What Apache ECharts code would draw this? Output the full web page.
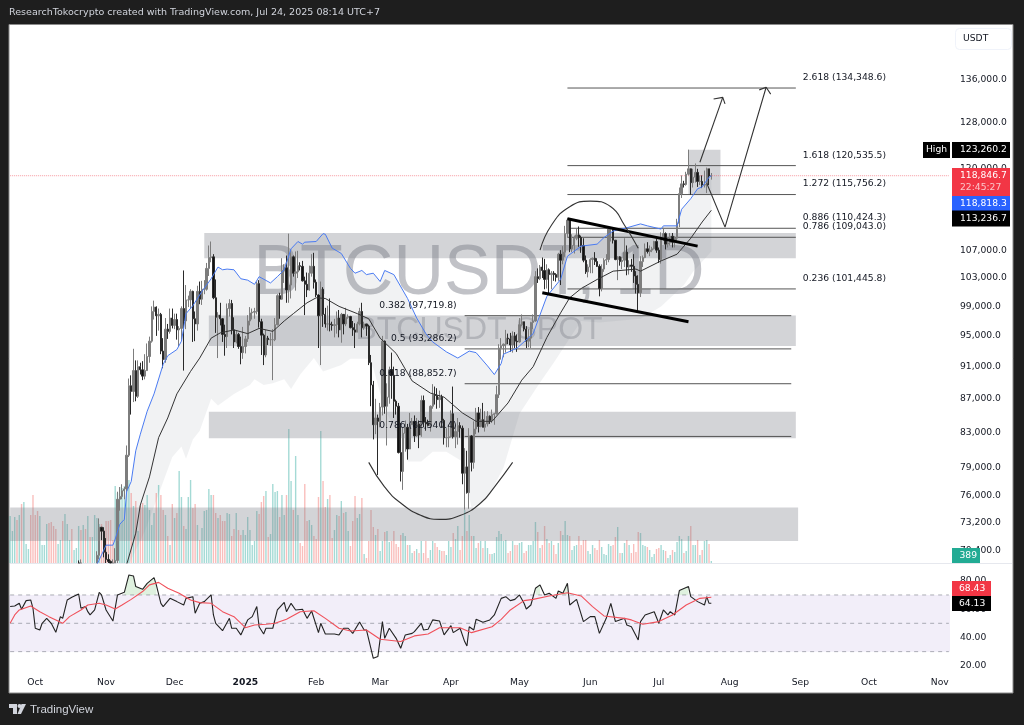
<!DOCTYPE html>
<html><head><meta charset="utf-8">
<style>html,body{margin:0;padding:0;background:#1e1e1e;overflow:hidden}#c{width:1024px;height:725px}</style>
<script src="https://cdn.jsdelivr.net/npm/echarts@6/dist/echarts.min.js"></script>
</head><body><div id="c"></div>
<script>
// ---- daily data, thousands of USDT, 20 Sep 2024 .. 24 Jul 2025 ----
const closes=[63.2,63.3,63.5,63.3,64.3,63.1,65.2,65.8,65.9,65.6,63.3,
60.8,60.6,60.8,62.1,62.1,62.8,62.2,62.1,60.6,60.3,62.5,63.2,62.9,66.0,67.0,67.6,67.4,68.4,68.4,69.0,67.4,67.4,66.7,68.2,66.6,67.0,67.9,69.9,72.7,72.3,70.2,
69.5,69.3,68.7,67.8,69.4,75.6,75.9,76.5,76.7,80.4,88.6,87.9,90.5,87.3,91.0,90.6,89.8,90.5,92.3,94.3,98.3,98.9,97.7,97.9,93.0,91.9,95.9,95.6,97.4,96.4,
97.2,95.8,96.0,98.7,97.0,99.9,99.9,101.1,97.3,96.6,101.1,100.0,101.4,101.4,104.4,106.0,106.1,100.2,97.5,97.8,97.3,95.2,94.9,98.7,99.4,95.8,94.2,95.2,93.6,92.8,93.6,
94.6,97.0,98.1,98.2,98.3,102.2,96.9,95.1,92.5,94.7,94.5,94.5,94.5,96.5,100.5,100.0,104.1,104.5,101.3,102.0,106.1,103.7,103.9,104.8,104.7,102.6,102.1,101.3,103.7,104.7,102.4,
100.6,97.7,101.4,97.9,96.6,96.6,96.5,96.4,96.5,97.4,95.8,97.9,96.6,97.5,97.6,96.1,95.8,95.5,96.6,98.3,96.1,96.6,96.3,91.5,88.7,83.9,84.7,84.3,
86.0,94.3,86.1,87.2,90.6,89.9,86.7,86.1,80.7,78.6,82.9,83.6,81.1,83.9,84.3,82.6,84.0,82.7,86.8,84.2,84.0,83.8,86.1,87.5,87.4,86.9,87.2,84.4,82.4,82.4,82.5,
85.2,82.5,83.1,83.8,83.5,78.4,79.1,76.3,82.6,79.6,83.4,85.3,83.7,84.5,83.6,84.0,84.9,84.4,85.1,85.2,87.5,93.4,93.7,93.9,94.7,94.6,93.8,95.0,94.3,94.2,
96.5,96.9,95.9,94.3,94.7,96.8,97.0,103.2,102.9,104.6,104.1,102.8,104.2,103.5,103.7,103.5,103.1,106.5,105.6,106.8,109.6,111.7,107.3,107.8,108.9,109.4,109.0,107.8,105.6,103.9,104.6,
105.7,105.9,105.4,104.7,101.5,104.3,105.6,105.7,110.3,110.3,108.6,105.7,106.1,105.4,105.6,106.8,104.6,104.9,104.7,103.3,102.1,100.9,105.4,106.0,107.3,106.9,107.1,107.3,108.4,107.1,
105.7,108.8,109.6,108.0,108.2,109.2,108.3,108.9,111.2,115.9,117.5,117.4,119.1,120.0,117.7,118.6,119.4,117.9,117.9,117.3,117.4,120.0,118.8,118.85];
const highs=[64.1,63.6,63.9,64.7,64.8,64.8,66.5,66.5,66.3,66.1,65.6,
64.1,62.4,61.5,62.5,62.4,62.9,64.5,62.7,62.5,61.3,63.4,63.5,63.1,66.5,67.9,68.4,68.0,69.0,68.7,69.4,69.5,67.8,67.4,68.8,68.8,67.7,68.2,70.3,73.6,72.7,72.7,
71.6,70.0,69.4,69.5,70.6,76.4,76.9,77.2,76.9,81.5,89.5,89.9,93.3,91.8,91.8,91.5,91.7,92.6,94.0,94.9,99.0,99.8,99.0,98.7,98.1,94.7,97.4,96.6,98.7,98.7,
98.0,98.0,96.3,99.0,104.1,102.0,100.5,101.4,101.2,98.3,101.9,102.5,102.6,102.7,105.2,107.8,108.4,106.5,102.8,98.2,99.5,97.4,96.5,99.4,100.0,99.9,97.5,95.7,95.4,94.9,96.2,
95.0,97.8,98.9,98.7,98.8,102.5,102.7,97.3,95.3,95.8,95.0,95.4,95.9,97.4,100.7,100.9,105.9,105.0,106.3,109.6,107.2,106.3,106.9,107.0,105.3,105.5,103.2,103.8,104.8,106.5,106.7,
102.8,100.7,102.5,101.7,98.8,99.1,100.1,96.9,97.3,98.3,98.5,98.1,97.2,98.8,97.9,97.7,97.0,96.7,96.9,98.8,99.5,96.9,96.5,96.5,92.5,89.2,87.0,85.1,
86.5,95.0,94.4,88.9,91.0,92.8,91.0,86.9,86.5,84.1,83.6,84.4,84.0,85.3,84.7,85.0,84.7,84.4,87.4,87.4,84.8,84.5,86.2,88.8,88.5,88.3,88.0,87.5,84.6,83.5,83.9,
85.6,88.5,83.9,84.7,84.2,83.8,81.2,80.9,83.5,82.7,84.3,85.9,86.0,85.8,86.5,85.5,85.5,85.0,85.7,85.3,88.6,93.9,94.7,94.0,95.8,95.3,95.4,95.6,95.5,95.2,
97.4,97.9,96.9,96.3,95.9,96.9,97.9,104.0,104.4,104.9,106.0,105.8,105.0,104.4,104.0,104.0,103.7,106.7,107.1,107.7,110.8,112.0,111.9,109.5,109.3,110.4,110.7,109.3,108.9,106.3,105.0,
105.9,106.0,106.8,105.9,105.0,105.0,105.9,106.5,110.6,110.4,110.4,108.6,106.2,106.2,106.1,108.9,107.8,105.6,105.8,106.5,104.0,103.4,106.2,106.3,108.1,108.3,107.8,107.6,108.5,108.8,
107.5,109.8,110.5,109.8,108.5,109.7,109.7,109.2,111.9,116.9,118.9,118.0,119.5,123.26,119.9,120.0,120.9,120.0,118.9,118.9,119.7,120.2,120.0,119.3];
const lows=[62.3,62.8,62.4,62.7,62.7,62.7,62.8,64.8,65.4,65.4,62.9,
60.0,60.0,60.1,60.4,61.7,62.0,62.1,61.9,60.3,58.9,60.4,62.5,62.0,62.8,64.8,66.5,66.7,67.1,68.1,68.0,66.8,66.6,65.3,65.2,65.5,66.4,66.8,67.5,69.5,71.4,69.7,
68.8,68.8,67.5,66.8,68.5,68.9,74.4,75.6,75.6,76.4,80.2,85.1,86.6,86.7,87.1,90.0,89.3,89.4,90.9,91.5,94.1,97.2,95.0,95.7,92.6,90.8,91.5,94.6,95.3,96.0,
95.9,94.5,93.6,94.5,90.5,95.9,98.9,98.7,94.2,94.3,95.7,99.3,99.2,100.7,101.2,103.3,105.3,100.0,95.4,92.1,96.4,94.2,92.4,93.4,97.6,95.2,93.4,94.0,93.3,91.3,92.0,
92.7,94.2,96.4,97.2,97.3,97.9,96.1,92.5,91.2,92.2,93.8,93.7,89.3,94.3,96.4,97.3,99.9,102.3,99.5,99.5,100.1,103.2,101.2,103.0,104.1,102.5,97.8,100.3,101.2,103.2,101.5,
100.3,93.4,91.2,96.2,96.1,95.7,95.6,95.7,94.8,95.3,94.8,94.1,95.2,96.3,97.3,96.0,95.0,93.4,95.6,96.4,94.8,95.8,95.0,91.2,86.1,82.2,82.8,78.2,
83.6,85.0,85.2,81.5,86.4,87.0,84.7,85.1,80.6,77.5,76.6,80.8,79.9,81.1,83.9,81.9,82.5,81.2,82.5,83.6,83.2,83.7,83.1,85.8,86.3,85.8,85.9,83.6,81.6,81.3,81.3,
82.4,82.3,81.2,81.6,82.4,77.2,74.5,76.2,74.6,78.6,78.9,82.8,83.0,83.6,83.6,83.1,83.7,84.0,84.1,83.9,85.1,87.1,91.9,92.2,92.8,93.9,92.9,92.8,93.4,92.9,
94.1,96.3,95.6,93.4,93.5,93.4,95.9,96.9,102.3,102.7,103.0,101.4,101.5,100.7,101.4,102.6,102.5,102.6,102.0,105.0,106.1,109.0,106.8,106.8,106.6,108.6,107.6,106.7,105.3,103.6,103.1,
103.7,103.7,104.9,104.6,100.4,101.1,103.9,104.9,105.3,108.4,108.1,105.6,102.7,104.8,104.3,104.6,103.4,103.5,103.9,102.3,100.8,98.2,100.3,104.6,105.9,106.6,106.2,106.8,107.2,106.7,
105.2,105.1,108.5,107.2,107.5,107.8,107.5,107.5,108.3,110.6,115.2,116.9,117.2,118.9,115.7,116.9,117.7,117.0,117.3,116.8,116.9,116.0,117.3,118.2];
const firstOpen=62.9;
const volumes=[47,32,46,43,48,59,61,19,14,48,68,48,52,47,18,18,39,40,41,37,34,19,23,42,49,39,23,34,13,15,37,33,38,34,47,26,26,48,45,39,39,33,42,42,43,23,77,70,76,75,77,87,83,70,57,62,32,57,60,58,68,53,38,50,70,78,68,53,48,27,18,59,45,50,92,66,37,34,66,83,55,59,38,23,35,52,53,74,68,68,50,45,48,42,42,50,49,27,34,50,33,28,33,28,46,
33,18,22,52,49,61,67,72,26,29,79,71,72,46,68,48,68,134,82,53,107,48,20,17,79,42,43,38,27,24,66,132,82,56,64,68,25,33,48,47,62,50,51,32,17,42,67,45,49,65,9,5,22,53,36,28,34,12,22,31,32,21,22,32,19,16,28,30,27,18,18,10,12,14,10,22,10,22,5,13,22,20,16,13,12,12,8,22,16,30,24,37,13,27,53,32,48,27,27,15,20,22,15,22,
15,9,9,10,26,32,29,22,23,10,12,22,18,18,20,21,10,12,18,18,22,41,31,15,18,37,24,20,22,18,9,20,32,28,42,28,27,13,17,18,27,18,23,23,12,9,18,15,13,23,16,9,8,19,17,18,26,36,10,10,20,23,18,10,19,11,31,30,18,17,16,13,6,9,14,15,18,13,12,5,8,13,11,21,27,24,10,12,27,37,18,18,23,8,13,22,23,19,2];
// moving-average lines: [day index, thousands USDT]
const blueLine=[[38,69],[41,70.4],[42,70.9],[45,70.9],[46,71.5],[48,73],[50,73.5],[51,76.4],[53,77.5],[55,80.9],[57,82.8],[60,85.5],[63,87.6],[67,91.3],[69,92.4],[73,93.2],[75,94.3],[77,98],[80,99.1],[84,101.1],[88,102.9],[91,104.6],[93,104.2],[95,104.3],[98,104.2],[101,102.9],[104,102.7],[107,102.1],[109,103.2],[114,102.3],[117,103.2],[120,104.2],[123,107.3],[126,108.4],[128,108],[129,108.3],[134,108.4],[137,109.6],[138,109.5],[141,107.4],[145,106.6],[149,104.4],[151,103.7],[154,104.1],[156,103.5],[159,103.7],[162,102.5],[164,104.1],[168,103.5],[174,100.1],[178,97.4],[182,95.3],[185,94.2],[191,92.9],[196,92.1],[201,93],[204,92.8],[209,91.1],[212,90],[215,91.4],[216,92.6],[222,93.4],[229,95.3],[231,97],[235,100.4],[241,102.8],[244,106.2],[250,107.7],[257,108],[260,109],[264,110],[270,110.5],[276,111.1],[279,110.8],[285,110.3],[286,110.8],[292,110.8],[294,113.4],[298,115.1],[301,116.7],[303,117],[306,118.6],[307,118.82]];
const blackLine=[[51,69],[55,72.1],[57,75],[61,78],[65,82.4],[69,84.7],[73,87.6],[79,90.4],[83,92.1],[88,94.7],[92,95.4],[98,95.8],[104,95.3],[109,96],[115,95.6],[120,97],[124,98],[130,99.5],[134,100.2],[138,100.1],[144,99],[152,98],[157,97.3],[162,94.7],[169,92.7],[176,89.2],[184,87.7],[190,87.2],[198,85.3],[204,84.3],[211,84.3],[218,86.5],[224,89.3],[229,91],[235,94.8],[241,98.1],[245,100.2],[250,101.5],[257,102.8],[264,104],[274,104.3],[276,104],[285,105.5],[292,106.5],[298,108.9],[303,111.4],[307,113.24]];
const bandLower=[[52,69],[59,72.3],[66,76.8],[71,80.2],[75,81.4],[77,80],[80,82.2],[83,83.2],[88,87],[91,86.2],[98,87.6],[105,88.7],[107,89.4],[111,88.7],[115,88.9],[120,89.4],[123,88.2],[127,90],[133,92.1],[137,90.4],[145,91.2],[149,92],[157,92],[159,90.8],[164,85.7],[169,83.2],[172,82.4],[174,79.7],[180,79.7],[185,80.8],[191,80.8],[198,79.7],[202,74.7],[209,75.7],[216,79],[223,85.2],[232,89],[238,91.5],[245,94.7],[250,97],[258,96.8],[276,97.3],[285,99],[295,102],[299,103.9],[307,106.9]];
// RSI and its average: [day index, value]
const rsiLine=[[0,61.8],[2,62.2],[4,64.1],[5,59.9],[7,66],[9,66.5],[10,60.6],[11,46.5],[13,45.3],[14,50],[16,53.5],[18,50],[20,43.6],[22,54.7],[23,53.5],[25,66.5],[27,68.4],[30,70.7],[31,60.6],[33,61.8],[34,58.2],[35,55.9],[37,59.4],[39,71.9],[40,70],[42,59.4],[45,51.6],[47,70],[50,71.9],[52,84.1],[54,83.4],[55,75.9],[58,74],[60,78.2],[63,82.2],[64,77.1],[66,64.1],[67,61.8],[70,67.6],[73,65.3],[76,62.9],[77,67.6],[80,68.8],[81,57.1],[83,64.1],[85,65.3],[88,70],[89,55.9],[90,50],[93,44.8],[96,53.5],[97,46.5],[99,46.5],[101,41.8],[104,52.4],[106,54.7],[108,61.8],[109,47.6],[111,42.5],[112,46.5],[115,46.5],[117,59.4],[120,64.8],[121,58.2],[123,64.1],[125,59.4],[128,59.9],[130,53.5],[132,58.7],[135,43.4],[136,50],[138,42.5],[142,42.5],[144,41.8],[146,46.5],[148,46.5],[150,42.9],[153,50.9],[155,45.3],[156,45.3],[159,25.3],[161,26.5],[163,51.2],[164,39.4],[166,46.5],[169,39.4],[171,32.4],[173,41.8],[176,42.9],[177,44.1],[180,50],[181,45.3],[183,45.8],[185,52.4],[188,51.6],[190,41.8],[193,48.4],[194,43.4],[197,46.5],[199,37.1],[200,34],[201,47.6],[203,45.3],[204,52.8],[207,50.7],[210,52.4],[212,55.9],[215,67.6],[217,68.8],[219,66],[221,66.9],[223,70],[225,64.1],[226,60.1],[228,62.9],[230,74.7],[232,77.1],[234,70],[236,71.2],[239,67.6],[240,72.8],[242,71.2],[244,78.2],[245,62.9],[248,66.9],[251,51.2],[254,54.7],[256,54.7],[258,42.9],[261,53.5],[263,64.1],[265,51.2],[269,53.5],[270,48.8],[272,47.6],[275,38.2],[276,51.2],[278,55.9],[282,58.2],[284,50],[286,59.4],[288,55.9],[289,58.2],[291,55.9],[293,73.1],[297,75.9],[298,68.8],[301,65.3],[304,62.9],[305,68.8],[306,64.1],[307,64.13]];
const rsiMaLine=[[0,50],[2,55.9],[4,59.4],[9,62.2],[13,58.2],[17,54.7],[23,50],[26,54.7],[31,59.4],[34,62.9],[39,64.1],[42,62.9],[46,60.1],[49,62.9],[53,66.9],[58,72.4],[61,77.1],[65,78.9],[69,74.7],[74,71.2],[79,66.5],[83,64.6],[88,64.1],[93,58.2],[98,54.7],[103,46.9],[107,48.8],[112,49.3],[116,50],[121,52.8],[127,58.2],[133,58.9],[138,53.5],[144,46.5],[149,44.6],[156,45.3],[162,38.7],[171,37.1],[177,41.1],[183,42.5],[188,46.9],[197,46.9],[202,43.4],[211,47.6],[215,52.8],[219,59.4],[225,66],[229,66.9],[236,69.3],[244,71.6],[250,69.3],[255,61.8],[260,55.2],[269,53.5],[272,52.4],[277,49.3],[284,51.2],[290,55.9],[296,62.9],[302,67.6],[307,68.43]];
// drawings: [day index, thousands USDT]
const wedgeTop=[[243.8,111.9],[300.7,107.7]];
const wedgeBottom=[[232.9,100.9],[297.2,96.9]];
const arcTop=[[232,107.1],[237.2,110.9],[245.1,113.8],[253.9,114.7],[262.6,113.8],[269.2,110.9],[274.9,107.4]];
const arcBottom=[[156.7,79.6],[164.1,76.9],[170.7,75.2],[179.5,73.9],[188.2,73.5],[197,73.9],[205.7,75.2],[212.3,76.9],[220.2,79.6]];
const arrowOne=[[302,121.1],[311.7,132.6]];
const arrowOneHead=[[308.2,132.3],[311.7,132.6],[313,131.4]];
const arrowTwo=[[305.1,117.6],[313,110.6],[331.4,134.5]];
const arrowTwoHead=[[327.9,134],[331.4,134.5],[332.7,133.2]];
const zones=[[85.3,344.1,105.88,109.68],[87.1,344.1,93.66,97.76],[87.1,344.1,82.34,85.44],[0,345,71.32,74.73],[296.8,311.2,115.756,123.26]];
const upperFib=[['2.618',134348.6],['1.618',120535.5],['1.272',115756.2],['0.886',110424.3],['0.786',109043.0],['0.236',101445.8]];
const lowerFib=[['0.382',97719.8],['0.5',93286.2],['0.618',88852.7],['0.786',82540.4]];
const tickValues=[136000,128000,120000,107000,103000,99000,95000,91000,87000,83000,79000,76000,73200,70400];
const rsiTicks=[20,40,60,80];
const startDay=Date.UTC(2024,8,20), dayCount=412;
const lastPrice=118846.7;

const K=1000, font='"DejaVu Sans"', txt='#131722';
const axisMin=69152, axisMax=146726;
const days=[];for(let i=0;i<dayCount;i++)days.push(new Date(startDay+i*864e5));
const categories=days.map(d=>d.toISOString().slice(0,10));
const floorAt=v=>Math.max(v*K,axisMin);
const candle=closes.map((c,i)=>{const o=i?closes[i-1]:firstOpen;return highs[i]*K<axisMin?'-':[floorAt(o),floorAt(c),floorAt(lows[i]),highs[i]*K]});
const isUp=closes.map((c,i)=>c>=(i?closes[i-1]:firstOpen));
const toUsd=a=>a.map(p=>[p[0],p[1]*K]);
const seg=(data,w,color,extra)=>Object.assign({type:'line',data:toUsd(data),xAxisIndex:0,yAxisIndex:0,symbol:'none',silent:true,z:6,lineStyle:{width:w,color},animation:false},extra||{});
const UPPER=[243.8,344], LOWER=[199.2,341.5];
const fibSeries=upperFib.map(f=>({type:'line',data:[[UPPER[0],f[1]],[UPPER[1],f[1]]],symbol:'none',z:4,lineStyle:{width:1,color:'#555'},animation:false}))
 .concat(lowerFib.map(f=>({type:'line',data:[[LOWER[0],f[1]],[LOWER[1],f[1]]],symbol:'none',z:4,lineStyle:{width:1,color:'#555'},animation:false})));
const fmt=v=>Number(v).toLocaleString('en-US',{minimumFractionDigits:1,maximumFractionDigits:1});
const fibLabels=upperFib.map(f=>({t:f[0]+' ('+fmt(f[1])+')',x:UPPER[1],y:f[1],dx:7,a:'left'})).concat(lowerFib.map(f=>({t:f[0]+' ('+fmt(f[1])+')',x:LOWER[0],y:f[1],dx:-8,a:'right'})));

const overbought=[];let run=[];
rsiLine.forEach(p=>{if(p[1]>70){run.push(p)}else{if(run.length>1)overbought.push(run);run=[]}});
if(run.length>1)overbought.push(run);

const T=(text,x,y,fill,size,align)=>({type:'text',z:100,style:{text,x,y,fill,font:(size||9.2)+'px '+font,textVerticalAlign:'middle',textAlign:align||'left'}});
const tag=(x,y,w,h,fill)=>({type:'rect',z:99,shape:{x,y,width:w,height:h},style:{fill}});
const graphic=[
 {type:'rect',z:-10,shape:{x:9,y:24.5,width:1004,height:668.5},style:{fill:'#fff',stroke:'#8b8b8b',lineWidth:1}},
 {type:'line',z:-9,shape:{x1:10,y1:563.5,x2:1012,y2:563.5},style:{stroke:'#e6e8ee',lineWidth:1}},
 {type:'text',z:-5,style:{text:'BTCUSDT, 1D',x:479,y:275,fill:'rgba(120,123,134,0.46)',font:'70px "Liberation Sans"',textAlign:'center',textVerticalAlign:'middle'}},
 {type:'text',z:-5,style:{text:'BTCUSDT SPOT',x:479,y:330,fill:'rgba(120,123,134,0.36)',font:'32px "Liberation Sans"',textAlign:'center',textVerticalAlign:'middle'}},
 T('ResearchTokocrypto created with TradingView.com, Jul 24, 2025 08:14 UTC+7',9,13,'#d1d4dc',9.56),
 {type:'rect',z:50,shape:{x:955.5,y:28.5,width:56,height:21,r:4},style:{fill:'#fff',stroke:'#f0f3fa',lineWidth:1}},
 T('USDT',963,39,txt),
 tag(923,142,27,16,'#000'),T('High',936.5,150,'#fff',9.2,'center'),
 tag(952,142,58,16,'#000'),T('123,260.2',960,150,'#fff'),
 tag(952,168,58,28,'#f23645'),T('118,846.7',960,175.5,'#fff'),T('22:45:27',960,188,'#fbc5ca'),
 tag(952,196,58,15,'#2962ff'),T('118,818.3',960,203.5,'#fff'),
 tag(952,210.5,58,16,'#000'),T('113,236.7',960,218.5,'#fff'),
 tag(952,548,28,15,'#22ab94'),T('389',959.5,556,'#fff'),
 tag(952,581,39,15,'#f23645'),T('68.43',959,589,'#fff'),
 tag(952,596,39,15,'#000'),T('64.13',959,604,'#fff'),
 {type:'polygon',z:100,shape:{points:[[9,704],[17,704],[17,714],[13,714],[13,708],[9,708]]},style:{fill:'#d1d4dc'}},
 {type:'circle',z:100,shape:{cx:19.5,cy:706,r:2},style:{fill:'#d1d4dc'}},
 {type:'polygon',z:100,shape:{points:[[21.5,704],[26,704],[21,714],[17.5,714]]},style:{fill:'#d1d4dc'}},
 {type:'text',z:100,style:{text:'TradingView',x:30,y:710,fill:'#d1d4dc',font:'11.5px "Liberation Sans"',textVerticalAlign:'middle'}}
];

const customOne=(renderItem,z,extra)=>Object.assign({type:'custom',xAxisIndex:0,yAxisIndex:0,data:[[0,100000]],encode:{x:0,y:1},clip:true,silent:true,z,animation:false,renderItem},extra||{});

const option={
 animation:false,
 graphic,
 grid:[{left:9,right:74,top:25,height:538},{left:9,right:74,top:564,height:106}],
 xAxis:[
  {type:'category',gridIndex:0,data:categories,axisLine:{show:false},axisTick:{show:false},axisLabel:{show:false},splitLine:{show:false}},
  {type:'category',gridIndex:1,data:categories,axisLine:{show:false},axisTick:{show:false},splitLine:{show:false},
   axisLabel:{margin:8,color:txt,fontFamily:font,fontSize:9.2,hideOverlap:false,
    interval:(i)=>days[i].getUTCDate()===1,
    formatter:(v,i)=>{const d=new Date(v+'T00:00:00Z');const m=['Jan','Feb','Mar','Apr','May','Jun','Jul','Aug','Sep','Oct','Nov','Dec'][d.getUTCMonth()];return d.getUTCMonth()===0?'{b|'+d.getUTCFullYear()+'}':m},
    rich:{b:{fontWeight:'bold',fontFamily:font,fontSize:9.2,color:txt}}}}
 ],
 yAxis:[
  {type:'log',gridIndex:0,position:'right',min:axisMin,max:axisMax,axisLine:{show:false},axisTick:{show:false},splitLine:{show:false},minorTick:{show:false},
   axisLabel:{customValues:tickValues,margin:10,color:txt,fontFamily:font,fontSize:9.2,formatter:v=>fmt(v)}},
  {type:'value',gridIndex:0,show:false,min:0,max:538,splitLine:{show:false}},
  {type:'value',gridIndex:1,position:'right',min:17.04,max:91.85,axisLine:{show:false},axisTick:{show:false},splitLine:{show:false},
   axisLabel:{customValues:rsiTicks,margin:10,color:txt,fontFamily:font,fontSize:9.2,formatter:v=>Number(v).toFixed(2)}}
 ],
 series:[
  customOne((p,api)=>{
    const pts=blueLine.map(q=>api.coord([q[0],q[1]*K])).concat(bandLower.slice().reverse().map(q=>api.coord([q[0],q[1]*K])));
    return{type:'polygon',shape:{points:pts},style:{fill:'rgba(120,123,134,0.1)'}};
  },1),
  {type:'bar',xAxisIndex:0,yAxisIndex:1,data:volumes,barWidth:1.4,z:2,silent:true,animation:false,
   itemStyle:{color:p=>isUp[p.dataIndex]?'rgba(38,166,154,0.42)':'rgba(239,83,80,0.38)'}},
  Object.assign(customOne((p,api)=>{
    const z=zones[p.dataIndex],a=api.coord([z[0],z[3]*K]),b=api.coord([z[1],z[2]*K]);
    return{type:'rect',shape:{x:a[0],y:a[1],width:b[0]-a[0],height:b[1]-a[1]},style:{fill:'rgba(120,123,134,0.33)'}};
  },3),{data:zones.map(()=>[0,100000])}),
  {type:'candlestick',xAxisIndex:0,yAxisIndex:0,data:candle,barWidth:1.8,z:5,silent:true,animation:false,clip:true,
   itemStyle:{color:'#7d7d7d',color0:'#111',borderColor:'#7d7d7d',borderColor0:'#2a2a2a',borderWidth:1}},
  {type:'line',xAxisIndex:0,yAxisIndex:0,data:[[0,lastPrice],[411,lastPrice]],symbol:'none',z:4,animation:false,lineStyle:{width:1,type:'dotted',color:'rgba(242,54,69,0.5)'}},
  ...fibSeries,
  seg(blueLine,1,'#4a7bf2'),
  seg(blackLine,1,'#333'),
  seg(wedgeTop,3,'#000',{z:7}),
  seg(wedgeBottom,3,'#000',{z:7}),
  seg(arcTop,1.1,'#333',{smooth:0.5,z:7}),
  seg(arcBottom,1.1,'#333',{smooth:0.5,z:7}),
  seg(arrowOne,1.1,'#333',{z:7}),seg(arrowOneHead,1.1,'#333',{z:7}),
  seg(arrowTwo,1.1,'#333',{z:7}),seg(arrowTwoHead,1.1,'#333',{z:7}),
  Object.assign(customOne((p,api)=>{
    const l=fibLabels[p.dataIndex],c=api.coord([l.x,l.y]);
    return{type:'text',style:{text:l.t,x:c[0]+l.dx,y:c[1]-10.5,fill:txt,font:'9.2px '+font,textAlign:l.a,textVerticalAlign:'middle'}};
  },8),{data:fibLabels.map(()=>[0,100000]),clip:false}),
  // RSI pane
  {type:'custom',xAxisIndex:1,yAxisIndex:2,data:[[0,50]],encode:{x:0,y:1},silent:true,z:1,animation:false,clip:true,
   renderItem:(p,api)=>{const a=api.coord([0,70]),b=api.coord([411,30]);const s=api.size([1,0])[0];
     return{type:'rect',shape:{x:a[0]-s/2,y:a[1],width:b[0]-a[0]+s,height:b[1]-a[1]},style:{fill:'rgba(126,87,194,0.1)'}}}},
  ...[70,50,30].map(v=>({type:'line',xAxisIndex:1,yAxisIndex:2,data:[[0,v],[411,v]],symbol:'none',z:2,animation:false,lineStyle:{width:1,type:[4,4],color:'rgba(120,123,134,0.6)'}})),
  {type:'custom',xAxisIndex:1,yAxisIndex:2,data:overbought.map(()=>[0,70]),encode:{x:0,y:1},silent:true,z:2,animation:false,
   renderItem:(p,api)=>{const r=overbought[p.dataIndex];const pts=[[r[0][0],70]].concat(r,[[r[r.length-1][0],70]]).map(q=>api.coord(q));
     return{type:'polygon',shape:{points:pts},style:{fill:'rgba(76,175,80,0.18)'}}}},
  {type:'line',xAxisIndex:1,yAxisIndex:2,data:rsiLine,symbol:'none',z:3,animation:false,lineStyle:{width:1.1,color:'#222'}},
  {type:'line',xAxisIndex:1,yAxisIndex:2,data:rsiMaLine,symbol:'none',z:4,animation:false,lineStyle:{width:1.1,color:'#f0505a'}}
 ]
};
const chart=echarts.init(document.getElementById('c'),null,{renderer:'canvas',width:1024,height:725});
chart.setOption(option);
</script></body></html>
